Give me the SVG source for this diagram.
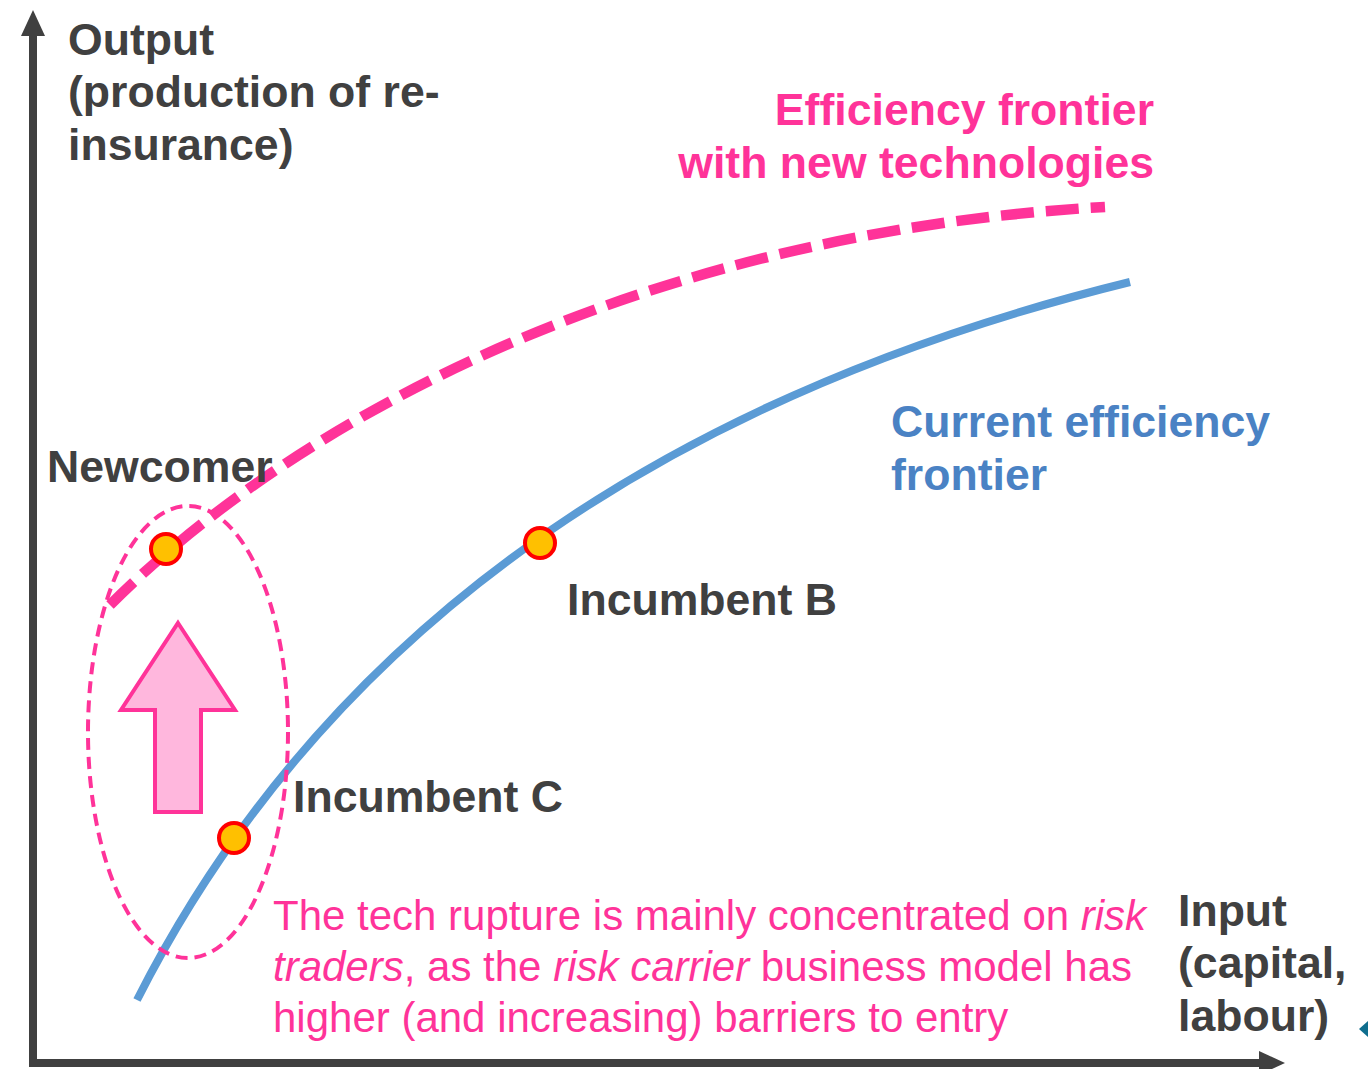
<svg xmlns="http://www.w3.org/2000/svg" width="1368" height="1069" viewBox="0 0 1368 1069">
<style>
.lbl{font-family:"Liberation Sans",Arial,sans-serif;font-weight:bold;font-size:44.6px;fill:#404040}
.pink{fill:#FF3399}
.blue{fill:#4A82C4}
.note{font-family:"Liberation Sans",Arial,sans-serif;font-size:42px;fill:#FF3399}
.dot{fill:#FFC000;stroke:#FF0000;stroke-width:4}
</style>
<rect width="1368" height="1069" fill="#fff"/>
<g id="axes">
<line x1="33" y1="1063" x2="33" y2="32" stroke="#404040" stroke-width="8"/>
<polygon points="33,10 21,36 45,36" fill="#404040"/>
<line x1="29" y1="1063" x2="1262" y2="1063" stroke="#404040" stroke-width="8"/>
<polygon points="1285,1063 1259,1051 1259,1075" fill="#404040"/>
</g>
<g id="connectors">
<path id="current-frontier" d="M137,1000 C320,640 650,400 1130,282" fill="none" stroke="#5B9BD5" stroke-width="8"/>
<path id="new-frontier" d="M110,605 C300,415 650,232 1105,207" fill="none" stroke="#FF3399" stroke-width="10.5" stroke-dasharray="33,12"/>
</g>
<g id="group-ellipse">
<ellipse cx="188" cy="732" rx="100" ry="226" fill="none" stroke="#FF3399" stroke-width="4" stroke-dasharray="12,7"/>
</g>
<g id="up-arrow">
<polygon points="178,623 235,710 201,710 201,812 155,812 155,710 121,710" fill="#FFB7DD" stroke="#FF3399" stroke-width="4" stroke-linejoin="miter"/>
</g>
<g id="newcomer">
<circle class="dot" cx="166" cy="549" r="15"/>
<text class="lbl" x="47" y="482">Newcomer</text>
</g>
<g id="incumbent-b">
<circle class="dot" cx="540" cy="543" r="15"/>
<text class="lbl" x="567" y="615">Incumbent B</text>
</g>
<g id="incumbent-c">
<circle class="dot" cx="234" cy="838" r="15"/>
<text class="lbl" x="293" y="812">Incumbent C</text>
</g>
<g id="y-label">
<text class="lbl" x="68" y="55">Output</text>
<text class="lbl" x="68" y="107">(production of re-</text>
<text class="lbl" x="68" y="160">insurance)</text>
</g>
<g id="x-label">
<text class="lbl" x="1178" y="926">Input</text>
<text class="lbl" x="1178" y="978">(capital,</text>
<text class="lbl" x="1178" y="1031">labour)</text>
</g>
<g id="new-frontier-label">
<text class="lbl pink" x="1154" y="125" text-anchor="end">Efficiency frontier</text>
<text class="lbl pink" x="1154" y="178" text-anchor="end">with new technologies</text>
</g>
<g id="current-frontier-label">
<text class="lbl blue" x="891" y="437">Current efficiency</text>
<text class="lbl blue" x="891" y="490">frontier</text>
</g>
<g id="note">
<text class="note" x="273" y="930">The tech rupture is mainly concentrated on <tspan font-style="italic">risk</tspan></text>
<text class="note" x="273" y="981"><tspan font-style="italic">traders</tspan>, as the <tspan font-style="italic">risk carrier</tspan> business model has</text>
<text class="note" x="273" y="1032">higher (and increasing) barriers to entry</text>
</g>
<polygon points="1359,1029 1369,1020 1379,1029 1369,1038" fill="#0F6E8E"/>
</svg>
